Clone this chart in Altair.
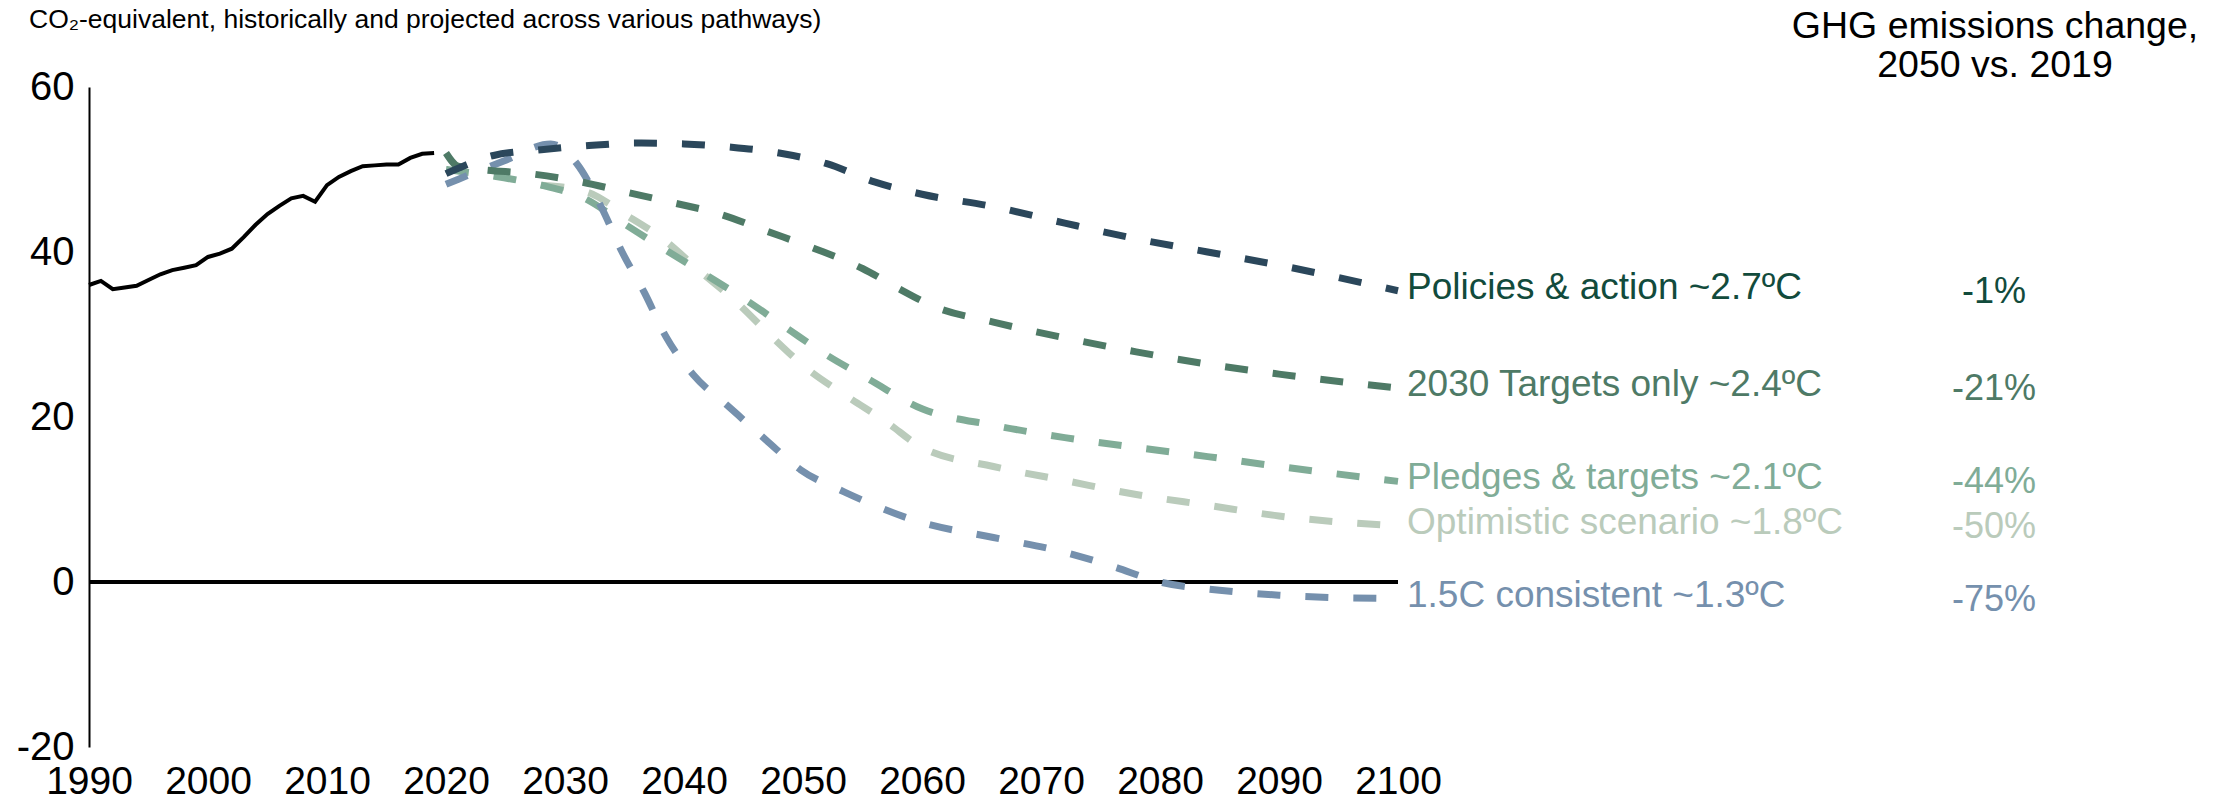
import altair as alt
import pandas as pd

# ---------------- data ----------------
hist_years = list(range(1990, 2020))
hist_values = [36.0, 36.5, 35.5, 35.7, 35.9, 36.6, 37.3, 37.8, 38.1, 38.4,
               39.4, 39.8, 40.4, 41.8, 43.3, 44.6, 45.6, 46.5, 46.8, 46.1,
               48.1, 49.1, 49.8, 50.4, 50.5, 50.6, 50.6, 51.4, 51.9, 52.0]

policies_years = [2020, 2024, 2028, 2032, 2036, 2040, 2044, 2048, 2052, 2056,
                  2060, 2066, 2072, 2078, 2084, 2090, 2095, 2100]
policies_values = [49.5, 51.7, 52.4, 52.9, 53.2, 53.1, 52.7, 52.0, 50.7, 48.5,
                   47.0, 45.5, 43.5, 41.6, 40.0, 38.4, 36.9, 35.3]

targets_years = [2020, 2021, 2023, 2027, 2031, 2035, 2039, 2043, 2047, 2051,
                 2055, 2058, 2061, 2066, 2072, 2078, 2084, 2090, 2100]
targets_values = [52.0, 50.4, 50.0, 49.5, 48.6, 47.3, 46.0, 44.6, 42.5, 40.4,
                  38.0, 35.6, 33.4, 31.5, 29.6, 27.9, 26.4, 25.2, 23.5]

pledges_years = [2020, 2024, 2028, 2031.5, 2035, 2038.5, 2042, 2045.5, 2049,
                 2052, 2055.5, 2060, 2066, 2072, 2078, 2084, 2090, 2100]
pledges_values = [50.0, 49.2, 48.1, 46.6, 43.4, 40.2, 37.1, 33.9, 30.4,
                  27.5, 24.6, 21.0, 19.0, 17.5, 16.3, 15.2, 14.0, 12.2]

optimistic_years = [2028, 2031.8, 2035, 2038.3, 2041.4, 2044.5, 2047.4, 2050.3,
                    2053.7, 2057, 2060, 2066, 2072, 2078, 2084, 2090, 2100]
optimistic_values = [48.1, 47.3, 44.6, 41.5, 37.6, 33.8, 29.7, 25.9,
                     22.5, 19.4, 16.3, 14.0, 12.3, 10.6, 9.3, 8.0, 6.8]

consistent_years = [2020, 2021, 2024.8, 2028.8, 2031, 2033.1, 2034.8, 2036.7,
                    2038.5, 2040.8, 2043.8, 2046.9, 2049.8, 2053.5, 2060, 2066,
                    2072, 2076, 2080, 2085, 2090, 2095, 2100]
consistent_values = [48.2, 48.8, 51.0, 53.1, 50.7, 45.3, 40.0, 35.0,
                     29.7, 25.1, 21.2, 17.2, 13.6, 10.9, 7.2, 5.4,
                     3.6, 1.9, 0.0, -1.0, -1.6, -1.9, -2.0]

scenario_names = ["Policies & action", "2030 Targets only", "Pledges & targets",
                  "Optimistic scenario", "1.5C consistent"]
label_texts = ["Policies & action ~2.7ºC", "2030 Targets only ~2.4ºC",
               "Pledges & targets ~2.1ºC", "Optimistic scenario ~1.8ºC",
               "1.5C consistent ~1.3ºC"]
pct_texts = ["-1%", "-21%", "-44%", "-50%", "-75%"]
line_colors = ["#2b475b", "#4e7a66", "#80ac97", "#bacbbb", "#7590ad"]
text_colors = ["#124b3c", "#4e7a66", "#80ac97", "#bacbbb", "#7590ad"]

header_lines = ["GHG emissions change,", "2050 vs. 2019"]
subtitle_text = ["CO₂-equivalent, historically and projected across various pathways)"]
x_ticks = list(range(1990, 2101, 10))
y_ticks = [-20, 0, 20, 40, 60]

series_years = [policies_years, targets_years, pledges_years, optimistic_years, consistent_years]
series_values = [policies_values, targets_values, pledges_values, optimistic_values, consistent_values]

# ---------------- tables ----------------
hist = pd.DataFrame({"year": hist_years, "value": hist_values})
proj_frames = {
    n: pd.DataFrame({"year": yrs, "value": vals})
    for n, yrs, vals in zip(scenario_names, series_years, series_values)
}
labels = pd.DataFrame({
    "scenario": scenario_names,
    "label": label_texts,
    "pct": pct_texts,
    "color": text_colors,
    "year": [yrs[-1] for yrs in series_years],
    "value": [vals[-1] for vals in series_values],
})

FONT = "Liberation Sans"

x_enc = alt.X("year:Q",
              scale=alt.Scale(domain=[1990, 2100], nice=False, zero=False),
              axis=alt.Axis(values=x_ticks, format="d", domain=False, ticks=False,
                            tickSize=0, grid=False, labelFontSize=39,
                            labelPadding=15, labelColor="black",
                            labelFlush=False, labelOverlap=False, title=None))
y_enc = alt.Y("value:Q",
              scale=alt.Scale(domain=[-20, 60], nice=False, zero=False),
              axis=alt.Axis(values=y_ticks, domain=True, domainColor="black",
                            domainWidth=2, ticks=False, tickSize=0, grid=False,
                            labelFontSize=40, labelPadding=15, labelColor="black",
                            labelExpr="datum.value + ''",
                            labelFlush=False, labelOverlap=False, title=None))

zero_line = alt.Chart(hist).mark_rule(color="black", strokeWidth=2.5).encode(
    x=alt.datum(1990), x2=alt.datum(2100), y=alt.datum(0))

hist_line = alt.Chart(hist).mark_line(color="black", strokeWidth=4).encode(
    x=x_enc, y=y_enc)

draw_order = ["Optimistic scenario", "Pledges & targets", "1.5C consistent",
              "2030 Targets only", "Policies & action"]
proj_layers = []
for n in draw_order:
    c = line_colors[scenario_names.index(n)]
    proj_layers.append(
        alt.Chart(proj_frames[n]).mark_line(
            color=c, strokeWidth=7, strokeDash=[23, 25], strokeCap="butt",
            interpolate="monotone").encode(x="year:Q", y="value:Q"))

label_layer = alt.Chart(labels).mark_text(
    align="left", baseline="middle", dx=9, dy=-3, fontSize=37, font=FONT).encode(
    x="year:Q", y="value:Q", text="label:N",
    color=alt.Color("color:N", scale=None))

pct_layer = alt.Chart(labels).mark_text(
    align="center", baseline="middle", dx=596, dy=1, fontSize=36, font=FONT).encode(
    x="year:Q", y="value:Q", text="pct:N",
    color=alt.Color("color:N", scale=None))

header1 = alt.Chart(pd.DataFrame({"t": [header_lines[0]]})).mark_text(
    align="center", baseline="middle", dx=597, dy=-60, fontSize=37.5, font=FONT,
    color="black").encode(x=alt.datum(2100), y=alt.datum(60), text="t:N")
header2 = alt.Chart(pd.DataFrame({"t": [header_lines[1]]})).mark_text(
    align="center", baseline="middle", dx=597, dy=-21, fontSize=37.5, font=FONT,
    color="black").encode(x=alt.datum(2100), y=alt.datum(60), text="t:N")

subtitle = alt.Chart(pd.DataFrame({"t": subtitle_text})).mark_text(
    align="left", baseline="alphabetic", dx=-60, dy=-59, fontSize=26.5, font=FONT,
    color="black").encode(x=alt.datum(1990), y=alt.datum(60), text="t:N")

chart = alt.layer(
    zero_line, hist_line, *proj_layers, label_layer, pct_layer,
    header1, header2, subtitle
).properties(
    width=1309, height=660,
    autosize=alt.AutoSizeParams(type="none"),
    padding={"left": 81, "top": 79, "right": 805, "bottom": 52},
    background="white",
).configure(font=FONT).configure_view(
    strokeWidth=0, stroke="transparent").configure_axis(labelFont=FONT)

chart.save("out.html", embed_options={"renderer": "svg", "actions": False})
